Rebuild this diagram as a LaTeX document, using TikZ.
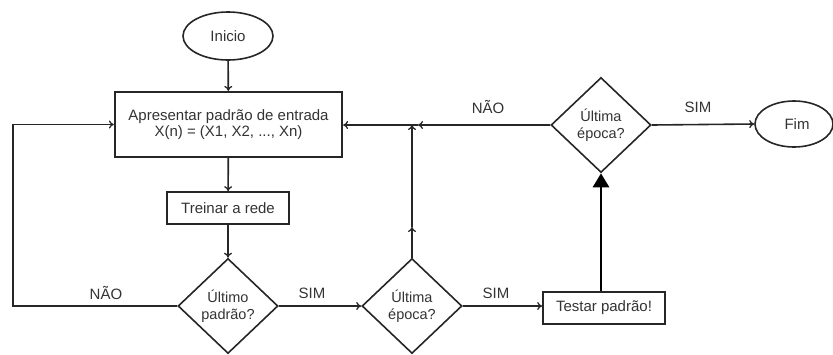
\documentclass[tikz,border=0pt]{standalone}
\usepackage{fontspec}
\setmainfont{Liberation Sans}
\usetikzlibrary{shapes.geometric,arrows.meta}
\begin{document}
\begin{tikzpicture}[x=1pt,y=-1pt,
  font=\fontsize{15}{16.5}\selectfont,
  every node/.style={text=black!80},
  line/.style={draw=black!85, line width=1.6pt},
  arr/.style={line, -{To[length=5pt,width=8pt,line width=1.3pt]}},
  bigarr/.style={draw=black, line width=2.8pt, -{Triangle[length=14pt,width=16pt]}},
  proc/.style={rectangle, draw=black!85, line width=1.7pt, align=center, inner sep=0pt},
  term/.style={ellipse, draw=black!85, line width=1.6pt, inner sep=0pt},
  dec/.style={diamond, draw=black!85, line width=1.6pt, align=center, inner sep=0pt, aspect=1.05, minimum width=100pt, minimum height=95pt, font=\fontsize{14.5}{16.5}\selectfont},
  lab/.style={inner sep=0pt}
]
\useasboundingbox (0,0) rectangle (833,354);
\node[term, minimum width=90pt, minimum height=48pt] (inicio) at (228,36) {Inicio};
\node[proc, line width=2.2pt, minimum width=227pt, minimum height=65pt] (apres) at (228.5,124.5) {Apresentar padrão de entrada\\X(n) = (X1, X2, ..., Xn)};
\node[proc, minimum width=122pt, minimum height=32pt] (treinar) at (228,208) {Treinar a rede};
\node[dec] (d1) at (228,306) {Último\\padrão?};
\node[dec] (d2) at (412,306) {Última\\época?};
\node[proc, minimum width=122pt, minimum height=32pt] (testar) at (604,308) {Testar padrão!};
\node[dec] (d3) at (601,125) {Última\\época?};
\node[term, minimum width=78pt, minimum height=46pt] (fim) at (794,124) {\hspace{6pt}Fim};

\coordinate (lc) at (13,306);
\coordinate (j) at (412,125);
\coordinate (jh) at (418,125);
\coordinate (mid) at (412,227);

\draw[arr] (inicio) -- (apres);
\draw[arr] (apres) -- (treinar);
\draw[arr] (treinar) -- (d1);
\draw[arr] (d1.west) -- (lc) |- (apres.west);
\draw[arr] (d1.east) -- (d2.west);
\draw[arr] (d2.east) -- (testar.west |- d2.east);
\draw[arr] (d2.north) -- (mid);
\draw[arr] (mid) -- (j);
\draw[arr] (d3.west) -- (jh);
\draw[arr] (jh) -- (apres.east |- jh);
\draw[arr] (d3.east) -- (fim.west);
\draw[bigarr] (testar.north -| d3.south) -- (d3.south);

\node[lab] (l1) at (106,293) {NÃO};
\node[lab] (l2) at (312,293) {SIM};
\node[lab] (l3) at (496,293) {SIM};
\node[lab] (l4) at (488,107) {NÃO};
\node[lab] (l5) at (698,107) {SIM};
\end{tikzpicture}
\end{document}
